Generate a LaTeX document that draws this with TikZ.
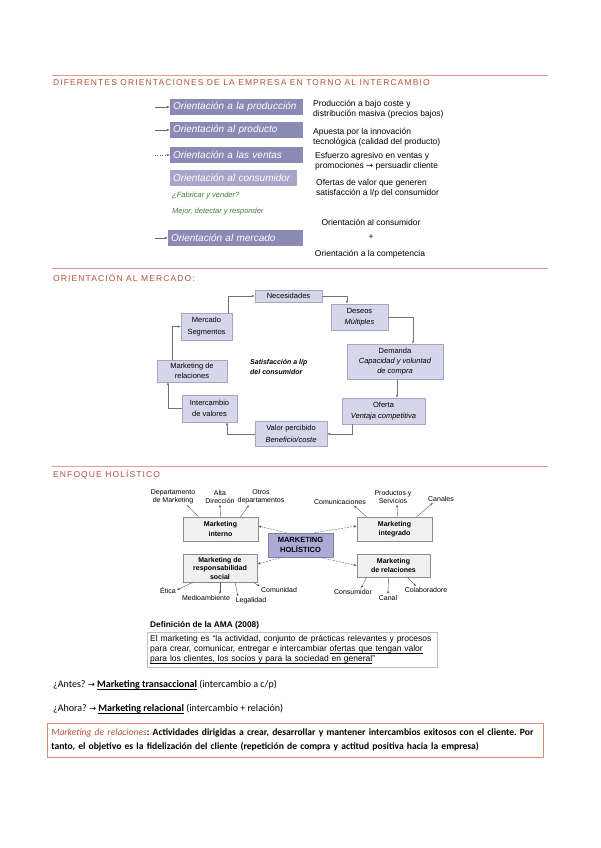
\documentclass[tikz,border=0pt]{standalone}
\usepackage{fontspec}
\setmainfont{Liberation Sans}
\newfontfamily\headfont[LetterSpace=13]{Liberation Sans}
\newfontfamily\calibfont{Carlito}
\newfontfamily\symfont{DejaVu Sans}
\usepackage{tikz}
\usepackage{xcolor}
\usetikzlibrary{arrows.meta,positioning}
\definecolor{HeadRed}{HTML}{B5503F}
\definecolor{RuleRed}{HTML}{E49A8C}
\definecolor{OrBox}{HTML}{8B8AB5}
\definecolor{OrBoxL}{HTML}{A7A6CA}
\definecolor{GreenTxt}{HTML}{4A7A3A}
\definecolor{CycFill}{HTML}{D6D6EA}
\definecolor{CycLine}{HTML}{A5A5C5}
\definecolor{HolFill}{HTML}{F0F0F0}
\definecolor{HolLine}{HTML}{8C8C8C}
\definecolor{HolMain}{HTML}{ABAAD6}
\definecolor{BoxRed}{HTML}{D98A7A}

\begin{document}
\frenchspacing
\begin{tikzpicture}[x=1pt, y=-1pt,
    head/.style={anchor=west, text=HeadRed, inner sep=0pt,
                 font=\headfont\fontsize{8.5}{10}\selectfont},
    rule/.style={draw=RuleRed, line width=0.8pt},
    orient/.style={fill=OrBox, text=white, align=left, text width=127pt,
                   minimum height=16pt, inner xsep=3pt, inner ysep=0pt,
                   font=\fontsize{10}{12}\selectfont\itshape},
    note/.style={anchor=west, align=left, inner sep=0pt,
                 font=\fontsize{8.5}{10}\selectfont},
    feed/.style={-{Latex[length=3pt,width=2.5pt]}, draw=black!60, line width=0.4pt},
    cyc/.style={draw=CycLine, fill=CycFill, align=center, inner sep=0pt,
                font=\fontsize{7.5}{11.5}\selectfont},
    cycarrow/.style={-{Latex[length=3pt,width=2.5pt]}, draw=black!55, line width=0.4pt},
    hbox/.style={draw=HolLine, fill=HolFill, align=center, inner sep=0pt,
                 minimum width=75pt, font=\bfseries\fontsize{7}{9.5}\selectfont},
    hlabel/.style={align=center, inner sep=0pt, font=\fontsize{7}{7.5}\selectfont},
    harrow/.style={-{Latex[length=3pt,width=2.5pt]}, draw=black!60, line width=0.4pt,
                   dash pattern=on 2pt off 1pt},
    tip/.style={-{Latex[length=2.5pt,width=2pt]}, draw=black!65, line width=0.4pt},
    body/.style={anchor=west, align=left, inner sep=0pt,
                 font=\calibfont\fontsize{10}{14}\selectfont}
]
\fill[white] (0,0) rectangle (600,848);
\useasboundingbox (0,0) rectangle (600,848);

% orientaciones
\draw[rule] (52,75) -- (548,75);
\node[head] (h1) at (53,83) {DIFERENTES ORIENTACIONES DE LA EMPRESA EN TORNO AL INTERCAMBIO};

\node[orient] (prod) at (236.5,107) {Orientación a la producción};
\node[orient] (produ) at (236.5,130) {Orientación al producto};
\node[orient] (vent) at (236.5,155) {Orientación a las ventas};
\node[orient, fill=OrBoxL, text width=121pt] (cons) at (233.5,178) {Orientación al consumidor};
\node[orient, text width=129pt] (merc) at (235.5,238) {Orientación al mercado};

\coordinate (a1) at (155,107);
\coordinate (a2) at (155,130);
\coordinate (a3) at (155,155);
\coordinate (a5) at (155,238);
\draw[feed] (a1) -- (prod);
\draw[feed] (a2) -- (produ);
\draw[feed, dotted] (a3) -- (vent);
\draw[feed] (a5) -- (merc);

\node[note] (tprod) at (313,109) {Producción a bajo coste y\\distribución masiva (precios bajos)};
\node[note] (tprodu) at (313,137) {Apuesta por la innovación\\tecnológica (calidad del producto)};
\node[note] (tvent) at (315,161.5) {Esfuerzo agresivo en ventas y\\promociones {\symfont→} persuadir cliente};
\node[note] (tcons) at (316,188) {Ofertas de valor que generen\\satisfacción a l/p del consumidor};

\node[note, text=GreenTxt, font=\fontsize{7.5}{8}\selectfont\itshape] (fab) at (172,196) {¿Fabricar y vender?};
\node[note, text=GreenTxt, font=\fontsize{7.5}{8}\selectfont\itshape] (mej) at (172,212) {Mejor, detectar y responder};

\node[font=\fontsize{8.5}{10}\selectfont, inner sep=0pt] (oc) at (371,222) {Orientación al consumidor};
\node[font=\fontsize{8.5}{10}\selectfont, inner sep=0pt] (plus) at (371,237) {+};
\node[font=\fontsize{8.5}{10}\selectfont, inner sep=0pt] (ocomp) at (370,254) {Orientación a la competencia};

% orientacion al mercado
\draw[rule] (52,268) -- (548,268);
\node[head] (h2) at (53,278) {ORIENTACIÓN AL MERCADO:};

\node[cyc, minimum width=67pt, minimum height=12pt] (nec) at (288.5,296) {Necesidades};
\node[cyc, minimum width=57pt, minimum height=26pt] (des) at (359.5,317) {Deseos\\\textit{Múltiples}};
\node[cyc, minimum width=96pt, minimum height=35pt, font=\fontsize{7.5}{10}\selectfont] (dem) at (395,361.5)
    {Demanda\\\textit{Capacidad y voluntad}\\\textit{de compra}};
\node[cyc, minimum width=83pt, minimum height=26pt] (ofe) at (383.5,411) {Oferta\\\textit{Ventaja competitiva}};
\node[cyc, minimum width=72pt, minimum height=25pt] (val) at (291,434) {Valor percibido\\\textit{Beneficio/coste}};
\node[cyc, minimum width=55pt, minimum height=27pt] (inter) at (209.5,408.5) {Intercambio\\de valores};
\node[cyc, minimum width=70pt, minimum height=22pt, font=\fontsize{7.5}{9.5}\selectfont] (rel) at (192,371) {Marketing de\\relaciones};
\node[cyc, minimum width=51pt, minimum height=27pt] (mer) at (206.5,326.5) {Mercado\\Segmentos};

\node[anchor=west, align=left, inner sep=0pt, font=\bfseries\itshape\fontsize{7}{9.5}\selectfont] (sat) at (250,367)
    {Satisfacción a l/p\\del consumidor};

\draw[cycarrow] ([xshift=21.5pt]mer.north) |- (nec.west);
\draw[cycarrow] (nec.east) -| ([xshift=-12.5pt]des.north);
\draw[cycarrow] (des.east) -| ([xshift=18pt]dem.north);
\draw[cycarrow] ([xshift=2pt]dem.south) -- ([xshift=2pt]dem.south |- ofe.north);
\draw[cycarrow] ([xshift=-31pt]ofe.south) |- (val.east);
\draw[cycarrow] (val.west) -| ([xshift=17.5pt]inter.south);
\draw[cycarrow] (inter.west) -| ([xshift=-24pt]rel.south);
\draw[cycarrow] ([xshift=-20pt]rel.north) |- (mer.west);

% enfoque holistico
\draw[rule] (52,466) -- (548,466);
\node[head] (h3) at (53,475) {ENFOQUE HOLÍSTICO};

\node[hbox, minimum height=24pt] (intn) at (220.5,529) {Marketing\\interno};
\node[hbox, minimum height=24pt] (intg) at (394.5,529) {Marketing\\integrado};
\node[hbox, minimum width=65pt, minimum height=24pt, fill=HolMain, draw=HolMain!75!black,
      font=\bfseries\fontsize{7.5}{9.5}\selectfont] (hol) at (300.5,545) {MARKETING\\HOLÍSTICO};
\node[hbox, minimum width=74pt, minimum height=28pt, font=\bfseries\fontsize{7}{8.5}\selectfont] (resp) at (220,568)
    {Marketing de\\responsabilidad\\social};
\node[hbox, minimum width=73pt, minimum height=23pt] (relm) at (393.5,565.5) {Marketing\\de relaciones};

\draw[harrow] ([xshift=-14pt]hol.north) -- ([yshift=3pt]intn.east);
\draw[harrow] ([xshift=14pt]hol.north) -- ([yshift=3pt]intg.west);
\draw[harrow] ([xshift=-18pt]hol.south) -- ([yshift=4pt]resp.east);
\draw[harrow] ([xshift=18pt]hol.south) -- (relm.west);

\node[hlabel] (dep) at (173,497) {Departamento\\de Marketing};
\node[hlabel] (alta) at (220,497) {Alta\\Dirección};
\node[hlabel] (otros) at (261,497) {Otros\\departamentos};
\node[hlabel] (com) at (340,502) {Comunicaciones};
\node[hlabel] (proser) at (393,497) {Productos y\\Servicios};
\node[hlabel] (can) at (441,499) {Canales};

\draw[tip] ([xshift=-22pt]intn.north) -- ([xshift=14pt,yshift=-1pt]dep.south);
\draw[tip] (intn.north) -- ([yshift=-1pt]alta.south);
\draw[tip] ([xshift=20pt]intn.north) -- ([xshift=-12pt,yshift=-1pt]otros.south);
\draw[tip] ([xshift=-28pt]intg.north) -- ([xshift=14pt,yshift=-1pt]com.south);
\draw[tip] ([xshift=3pt]intg.north) -- ([xshift=4pt,yshift=-1pt]proser.south);
\draw[tip] ([xshift=22pt]intg.north) -- ([xshift=-8pt,yshift=-1pt]can.south);

\node[hlabel] (etica) at (168,590) {Ética};
\node[hlabel] (medio) at (206,598) {Medioambiente};
\node[hlabel] (legal) at (251,601) {Legalidad};
\node[hlabel] (comu) at (279,590) {Comunidad};
\node[hlabel] (consu) at (353,592) {Consumidor};
\node[hlabel] (canal) at (388,598) {Canal};
\node[hlabel] (colab) at (426,590) {Colaboradore};

\draw[tip] ([xshift=-27pt]resp.south) -- ([xshift=1pt]etica.east);
\draw[tip] (resp.south) -- ([xshift=14pt,yshift=1pt]medio.north);
\draw[tip] ([xshift=15pt]resp.south) -- ([xshift=-13pt,yshift=1pt]legal.north);
\draw[tip] ([xshift=33pt]resp.south) -- ([xshift=-1pt,yshift=1pt]comu.north west);
\draw[tip] ([xshift=-27pt]relm.south) -- ([xshift=8pt,yshift=1pt]consu.north);
\draw[tip] ([xshift=-5pt]relm.south) -- ([yshift=1pt]canal.north);
\draw[tip] ([xshift=14pt]relm.south) -- ([xshift=-10pt,yshift=1pt]colab.north);

% definicion AMA
\node[anchor=west, inner sep=0pt, font=\bfseries\fontsize{8.3}{9}\selectfont] (ama) at (150,625) {Definición de la AMA (2008)};
\node[anchor=north west, draw=black!25, text width=284pt, minimum height=35pt, align=left,
      inner xsep=3pt, inner ysep=2pt, font=\fontsize{8.5}{10}\selectfont] (def) at (147,632)
    {El marketing es “la actividad, conjunto de prácticas relevantes y procesos\\
     para crear, comunicar, entregar e intercambiar \underbar{ofertas que tengan valor}\\
     \underbar{para los clientes, los socios y para la sociedad en general}”};

% antes / ahora
\node[body] (antes) at (53,685) {¿Antes? {\symfont\fontsize{8.5}{10}\selectfont→} \underbar{\textbf{Marketing transaccional}} (intercambio a c/p)};
\node[body] (ahora) at (53,709) {¿Ahora? {\symfont\fontsize{8.5}{10}\selectfont→} \underbar{\textbf{Marketing relacional}} (intercambio + relación)};

\node[anchor=north west, draw=BoxRed, line width=0.6pt, text width=488pt, minimum height=34pt,
      align=left, inner xsep=4pt, inner ysep=4pt, font=\calibfont\bfseries\fontsize{9.6}{14}\selectfont] (mrel) at (47,723)
    {{\mdseries\itshape\color{HeadRed}Marketing de relaciones}: Actividades dirigidas a crear, desarrollar y mantener intercambios exitosos con el cliente. Por\\
     tanto, el objetivo es la fidelización del cliente (repetición de compra y actitud positiva hacia la empresa)};
\end{tikzpicture}
\end{document}
